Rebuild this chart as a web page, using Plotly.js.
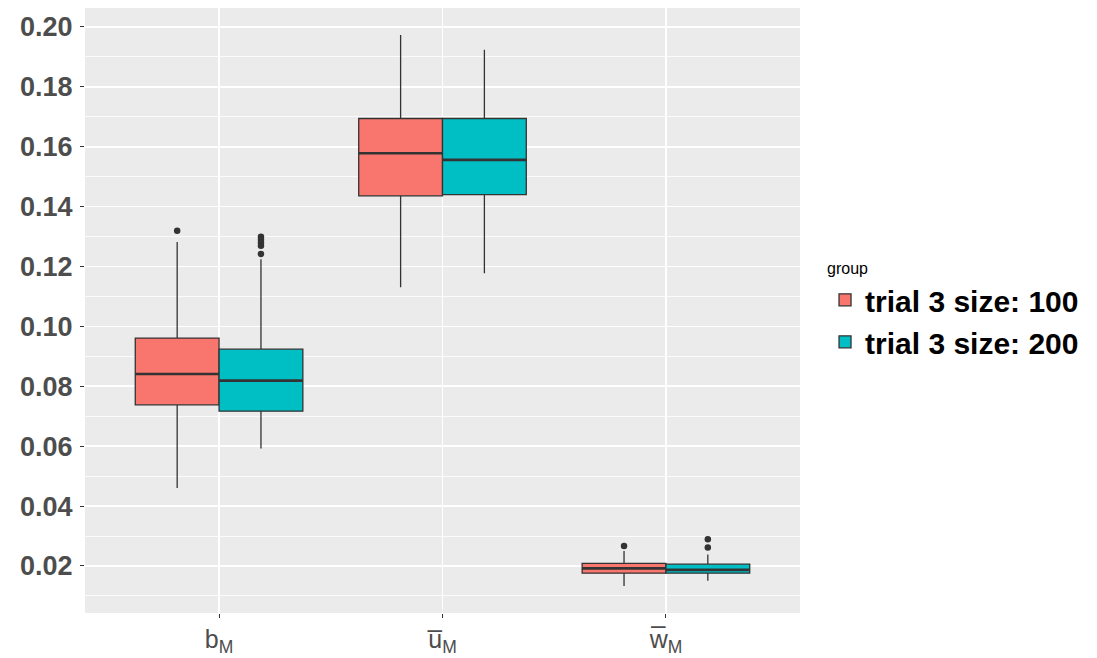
<!DOCTYPE html>
<html>
<head>
<meta charset="utf-8">
<script src="https://cdn.plot.ly/plotly-3.0.1.min.js"></script>
<style>
  html, body { margin: 0; padding: 0; background: #ffffff; }
  #chart { width: 1097px; height: 658px; }
</style>
</head>
<body>
<div id="chart"></div>
<script>
// Parameters on the x axis (rendered as b_M, ū_M, w̄_M)
const categories = ['b<sub>M</sub>', 'u\u0305<sub>M</sub>', 'w\u0305<sub>M</sub>'];
const groups = ['trial 3 size: 100', 'trial 3 size: 200'];
const groupColors = ['#F8766D', '#00BFC4'];

// Box summaries per group, one entry per category
const lowerA  = [0.0460, 0.1131, 0.0133];
const q1A     = [0.0738, 0.1436, 0.0176];
const medA    = [0.0841, 0.1578, 0.0192];
const q3A     = [0.0961, 0.1694, 0.0209];
const upperA  = [0.1282, 0.1973, 0.0250];

const lowerB  = [0.0592, 0.1177, 0.0151];
const q1B     = [0.0717, 0.1440, 0.0176];
const medB    = [0.0819, 0.1556, 0.0187];
const q3B     = [0.0924, 0.1694, 0.0206];
const upperB  = [0.1224, 0.1924, 0.0238];

// Outlying points: category index and value
const outCatA = [0, 2];
const outValA = [0.1319, 0.0267];
const outCatB = [0, 0, 0, 0, 0, 2, 2];
const outValB = [0.1299, 0.1289, 0.1279, 0.1269, 0.1242, 0.0289, 0.0262];

// y ticks
const yTickVals = [0.02, 0.04, 0.06, 0.08, 0.10, 0.12, 0.14, 0.16, 0.18, 0.20];
const yTickText = ['0.02', '0.04', '0.06', '0.08', '0.10', '0.12', '0.14', '0.16', '0.18', '0.20'];
const yMinorVals = [0.01, 0.03, 0.05, 0.07, 0.09, 0.11, 0.13, 0.15, 0.17, 0.19];

// Dodged layout: each category spans 0.75, split between two groups
const dodge = 0.75;
const boxW = dodge / 2;
const pos = (catIdx, g) => catIdx + 1 + (g === 0 ? -boxW / 2 : boxW / 2);

const stats = [
  {lower: lowerA, q1: q1A, med: medA, q3: q3A, upper: upperA, oc: outCatA, ov: outValA},
  {lower: lowerB, q1: q1B, med: medB, q3: q3B, upper: upperB, oc: outCatB, ov: outValB}
];

const traces = [];
stats.forEach((s, g) => {
  const xs = categories.map((_, i) => pos(i, g));
  traces.push({
    type: 'box',
    name: groups[g],
    legendgroup: groups[g],
    x: xs,
    q1: s.q1, median: s.med, q3: s.q3,
    lowerfence: s.lower, upperfence: s.upper,
    width: boxW,
    whiskerwidth: 0,
    fillcolor: groupColors[g],
    line: {color: '#333333', width: 1.3},
    boxpoints: false,
    hoverinfo: 'skip'
  });
});

// Thicker median bars drawn over the boxes
stats.forEach((s, g) => {
  const mx = [], my = [];
  categories.forEach((_, i) => {
    const c = pos(i, g);
    mx.push(c - boxW / 2, c + boxW / 2, null);
    my.push(s.med[i], s.med[i], null);
  });
  traces.push({
    type: 'scatter', mode: 'lines', x: mx, y: my,
    line: {color: '#333333', width: 2.6},
    showlegend: false, hoverinfo: 'skip', legendgroup: groups[g]
  });
});

// Outliers
stats.forEach((s, g) => {
  traces.push({
    type: 'scatter', mode: 'markers',
    x: s.oc.map(i => pos(i, g)), y: s.ov,
    marker: {color: '#333333', size: 6.5},
    showlegend: false, hoverinfo: 'skip', legendgroup: groups[g]
  });
});

const FONT = 'Liberation Sans, Arial, sans-serif';

const layout = {
  width: 1097, height: 658,
  margin: {l: 85, r: 297, t: 8, b: 45},
  paper_bgcolor: '#ffffff',
  plot_bgcolor: '#EBEBEB',
  showlegend: true,
  font: {family: FONT, color: '#4D4D4D'},
  xaxis: {
    range: [0.4, 3.6],
    tickmode: 'array',
    tickvals: categories.map((_, i) => i + 1),
    ticktext: categories,
    showgrid: true, gridcolor: '#ffffff', gridwidth: 1.7,
    zeroline: false, showline: false,
    ticks: 'outside', ticklen: 4, tickcolor: '#333333', tickwidth: 1,
    tickfont: {size: 25, color: '#4D4D4D', family: FONT}
  },
  yaxis: {
    range: [0.0043, 0.2063],
    tickmode: 'array',
    tickvals: yTickVals,
    ticktext: yTickText,
    showgrid: true, gridcolor: '#ffffff', gridwidth: 1.7,
    minor: {tickmode: 'array', tickvals: yMinorVals,
            showgrid: true, gridcolor: '#ffffff', gridwidth: 0.8, ticks: ''},
    zeroline: false, showline: false,
    ticks: 'outside', ticklen: 4, tickcolor: '#333333', tickwidth: 1,
    ticklabelstandoff: 2,
    tickfont: {size: 27, color: '#4D4D4D', family: FONT, weight: 'bold'}
  },
  legend: {
    x: 1.035, xanchor: 'left', y: 0.5, yanchor: 'middle',
    bgcolor: 'rgba(0,0,0,0)',
    title: {text: 'group', font: {size: 16, color: '#000000', family: FONT, weight: 'normal'}},
    font: {size: 30, color: '#000000', family: FONT, weight: 'bold'},
    tracegroupgap: 0, itemwidth: 30
  }
};

Plotly.newPlot('chart', traces, layout, {staticPlot: true, displayModeBar: false});
</script>
</body>
</html>
